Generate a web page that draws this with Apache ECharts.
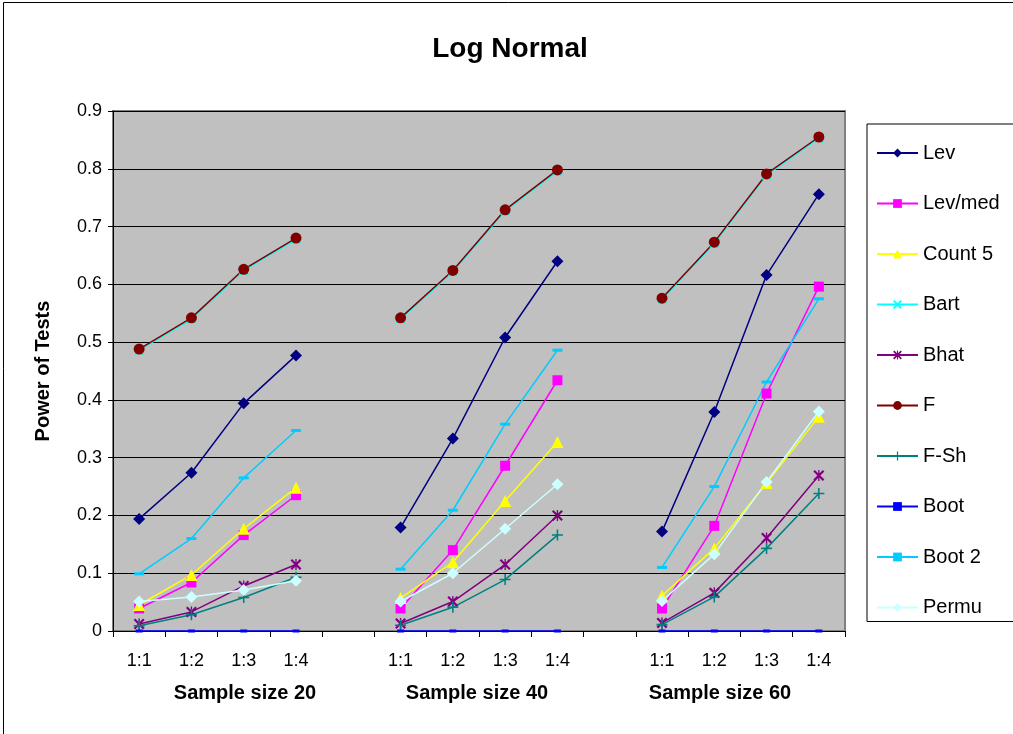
<!DOCTYPE html>
<html>
<head>
<meta charset="utf-8">
<script src="https://cdn.jsdelivr.net/npm/echarts@6/dist/echarts.min.js"></script>
<style>
html,body{margin:0;padding:0;background:#fff;}
#chart{width:1013px;height:734px;}
</style>
</head>
<body>
<div id="chart"></div>
<script>
const categories = ['1:1','1:2','1:3','1:4','', '1:1','1:2','1:3','1:4','', '1:1','1:2','1:3','1:4'];
const groupLabels = ['Sample size 20','Sample size 40','Sample size 60'];
const yTicks = [0,0.1,0.2,0.3,0.4,0.5,0.6,0.7,0.8,0.9];

const lev    = [0.194,0.274,0.394,0.477,null, 0.179,0.333,0.508,0.640,null, 0.172,0.379,0.616,0.756];
const levMed = [0.039,0.084,0.166,0.235,null, 0.039,0.140,0.286,0.434,null, 0.039,0.182,0.411,0.596];
const count5 = [0.045,0.097,0.177,0.248,null, 0.057,0.119,0.225,0.327,null, 0.061,0.143,0.256,0.371];
const bart   = [0.486,0.540,0.624,0.678,null, 0.540,0.622,0.727,0.796,null, 0.574,0.671,0.789,0.853];
const bhat   = [0.012,0.033,0.078,0.115,null, 0.013,0.051,0.115,0.200,null, 0.014,0.066,0.161,0.269];
const fTest  = [0.488,0.542,0.626,0.680,null, 0.542,0.624,0.729,0.798,null, 0.576,0.673,0.791,0.855];
const fSh    = [0.009,0.028,0.058,0.093,null, 0.010,0.041,0.089,0.166,null, 0.011,0.059,0.143,0.238];
const boot   = [0,0,0,0,null, 0,0,0,0,null, 0,0,0,0];
const boot2  = [0.099,0.160,0.265,0.347,null, 0.107,0.209,0.358,0.486,null, 0.110,0.250,0.431,0.575];
const permu  = [0.051,0.059,0.071,0.087,null, 0.051,0.100,0.177,0.254,null, 0.052,0.133,0.258,0.380];

const X_PATH = 'path://M0,1.4L1.4,0L5,3.6L8.6,0L10,1.4L6.4,5L10,8.6L8.6,10L5,6.4L1.4,10L0,8.6L3.6,5Z';
const STAR_PATH = 'path://M0,1.4L1.4,0L5,3.6L8.6,0L10,1.4L6.4,5L10,8.6L8.6,10L5,6.4L1.4,10L0,8.6L3.6,5Z M4.4,0L5.6,0L5.6,10L4.4,10Z';
const PLUS_PATH = 'path://M4.3,0H5.7V10H4.3Z M0,4.3H10V5.7H0Z';

function mk(name, data, color, symbol, size) {
  return {
    name: name, type: 'line', data: data, connectNulls: false,
    symbol: symbol, symbolSize: size, showSymbol: true,
    lineStyle: {color: color, width: 1.5},
    itemStyle: {color: color, borderWidth: 0},
    emphasis: {disabled: true}
  };
}

const series = [
  mk('Lev', lev, '#000080', 'diamond', 12),
  mk('Lev/med', levMed, '#FF00FF', 'rect', 10),
  mk('Count 5', count5, '#FFFF00', 'triangle', 12),
  mk('Bart', bart, '#00FFFF', X_PATH, 10),
  mk('Bhat', bhat, '#800080', STAR_PATH, 11),
  mk('F', fTest, '#800000', 'circle', 11),
  mk('F-Sh', fSh, '#008080', PLUS_PATH, 11),
  mk('Boot', boot, '#0000FF', 'rect', [7,3]),
  mk('Boot 2', boot2, '#00CCFF', 'rect', [10,3]),
  mk('Permu', permu, '#CCFFFF', 'diamond', 12)
];

const chart = echarts.init(document.getElementById('chart'), null, {renderer: 'canvas'});
const FONT = 'Liberation Sans, Arial, sans-serif';
chart.setOption({
  animation: false,
  backgroundColor: '#ffffff',
  title: {
    text: 'Log Normal', left: 505, top: 30, textAlign: 'center',
    textStyle: {fontFamily: FONT, fontSize: 28, fontWeight: 'bold', color: '#000'}
  },
  grid: {
    left: 113, right: 168, top: 111, bottom: 103,
    show: true, backgroundColor: '#C0C0C0', borderColor: '#808080', borderWidth: 2
  },
  legend: {
    orient: 'vertical', left: 867, top: 124,
    padding: [19, 30, 4, 9],
    itemWidth: 41, itemHeight: 11, itemGap: 30.5,
    borderColor: '#000', borderWidth: 1, backgroundColor: '#fff',
    textStyle: {fontFamily: FONT, fontSize: 20, color: '#000', lineHeight: 20},
    selectedMode: false
  },
  xAxis: {
    type: 'category', data: categories, boundaryGap: true,
    axisLine: {show: true, lineStyle: {color: '#000', width: 1}},
    axisTick: {show: true, interval: 0, length: 6, lineStyle: {color: '#000'}},
    axisLabel: {interval: 0, margin: 21, fontFamily: FONT, fontSize: 18, color: '#000'},
    splitLine: {show: false}
  },
  yAxis: {
    type: 'value', min: yTicks[0], max: yTicks[yTicks.length-1], interval: 0.1,
    name: 'Power of Tests', nameLocation: 'middle', nameGap: 60,
    nameTextStyle: {fontFamily: FONT, fontSize: 20, fontWeight: 'bold', color: '#000'},
    axisLine: {show: true, lineStyle: {color: '#000', width: 1}},
    axisTick: {show: true, length: 5, lineStyle: {color: '#000'}},
    axisLabel: {margin: 11, fontFamily: FONT, fontSize: 18, color: '#000',
      formatter: v => String(Math.round(v*10)/10)},
    splitLine: {show: true, lineStyle: {color: '#000', width: 1}}
  },
  graphic: [
    {type: 'rect', shape: {x: 3.5, y: 2.5, width: 1200, height: 900},
     style: {fill: null, stroke: '#000', lineWidth: 1}, silent: true, z: -10},
    {type: 'text', x: 245, y: 693, style: {text: groupLabels[0], font: 'bold 20px ' + FONT, fill: '#000', textAlign: 'center', textVerticalAlign: 'middle'}},
    {type: 'text', x: 477, y: 693, style: {text: groupLabels[1], font: 'bold 20px ' + FONT, fill: '#000', textAlign: 'center', textVerticalAlign: 'middle'}},
    {type: 'text', x: 720, y: 693, style: {text: groupLabels[2], font: 'bold 20px ' + FONT, fill: '#000', textAlign: 'center', textVerticalAlign: 'middle'}}
  ],
  series: series
});
</script>
</body>
</html>
